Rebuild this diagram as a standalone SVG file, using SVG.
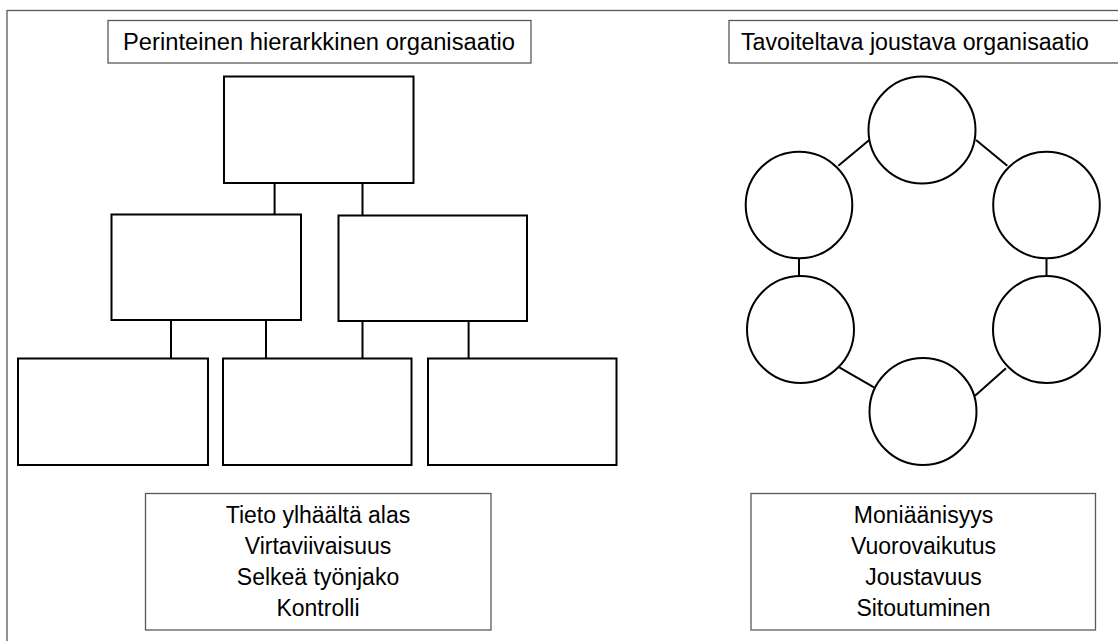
<svg xmlns="http://www.w3.org/2000/svg" width="1118" height="641" viewBox="0 0 1118 641">
<style>
.frame{fill:none;stroke:#595959;stroke-width:1.3}
.lbl{fill:#fff;stroke:#595959;stroke-width:1.3}
.box{fill:#fff;stroke:#000;stroke-width:2}
.circ{fill:#fff;stroke:#000;stroke-width:2}
.conn line{stroke:#000;stroke-width:2}
text{font-family:"Liberation Sans",Arial,sans-serif;font-size:23px;fill:#000}
.c{text-anchor:middle}
</style>
<rect width="1118" height="641" fill="#fff"/>
<rect class="frame" x="7" y="10.5" width="1200" height="700"/>
<g id="title-left"><rect class="lbl" x="108" y="20.5" width="423" height="42.5"/><text x="123" y="50" textLength="392" lengthAdjust="spacingAndGlyphs">Perinteinen hierarkkinen organisaatio</text></g>
<g id="title-right"><rect class="lbl" x="729" y="20.5" width="420" height="42.5"/><text x="741" y="50" textLength="348" lengthAdjust="spacingAndGlyphs">Tavoiteltava joustava organisaatio</text></g>
<g class="conn" id="connectors">
<line x1="274.6" y1="183" x2="274.6" y2="214"/>
<line x1="362.5" y1="183" x2="362.5" y2="215"/>
<line x1="171" y1="320" x2="171" y2="358"/>
<line x1="266" y1="320" x2="266" y2="358"/>
<line x1="362.5" y1="321" x2="362.5" y2="358"/>
<line x1="468.6" y1="321" x2="468.6" y2="358"/>
<line x1="838.3" y1="165.7" x2="869.3" y2="140"/>
<line x1="976" y1="140" x2="1007.3" y2="165.7"/>
<line x1="799" y1="258" x2="799" y2="276"/>
<line x1="1046.5" y1="258" x2="1046.5" y2="276"/>
<line x1="839.3" y1="367.3" x2="874" y2="387.3"/>
<line x1="1006" y1="368.3" x2="975" y2="395.7"/>
</g>
<g id="top"><rect class="box" x="224" y="76.5" width="189.5" height="106.5"/></g>
<g id="mid-left"><rect class="box" x="111.5" y="214.5" width="189.5" height="105.5"/></g>
<g id="mid-right"><rect class="box" x="338.5" y="215.5" width="188.5" height="105.5"/></g>
<g id="bot-1"><rect class="box" x="18" y="358.5" width="190" height="106.5"/></g>
<g id="bot-2"><rect class="box" x="223" y="358.5" width="188.5" height="106.5"/></g>
<g id="bot-3"><rect class="box" x="428" y="358.5" width="188.5" height="106.5"/></g>
<g id="c-top"><circle class="circ" cx="922" cy="130" r="53.5"/></g>
<g id="c-left"><circle class="circ" cx="799" cy="205" r="53.3"/></g>
<g id="c-right"><circle class="circ" cx="1046.5" cy="205" r="53.3"/></g>
<g id="c-lower-left"><circle class="circ" cx="800.5" cy="329.5" r="53.5"/></g>
<g id="c-lower-right"><circle class="circ" cx="1046.5" cy="329.5" r="53.5"/></g>
<g id="c-bottom"><circle class="circ" cx="923" cy="411.5" r="53.5"/></g>
<g id="text-left"><rect class="lbl" x="145.5" y="493.5" width="345.5" height="136.5"/>
<text class="c" x="318" y="523">Tieto ylhäältä alas</text>
<text class="c" x="318" y="554">Virtaviivaisuus</text>
<text class="c" x="318" y="585">Selkeä työnjako</text>
<text class="c" x="318" y="616">Kontrolli</text></g>
<g id="text-right"><rect class="lbl" x="751" y="493.5" width="344.5" height="136.5"/>
<text class="c" x="923.5" y="523">Moniäänisyys</text>
<text class="c" x="923.5" y="554">Vuorovaikutus</text>
<text class="c" x="923.5" y="585">Joustavuus</text>
<text class="c" x="923.5" y="616">Sitoutuminen</text></g>
</svg>
